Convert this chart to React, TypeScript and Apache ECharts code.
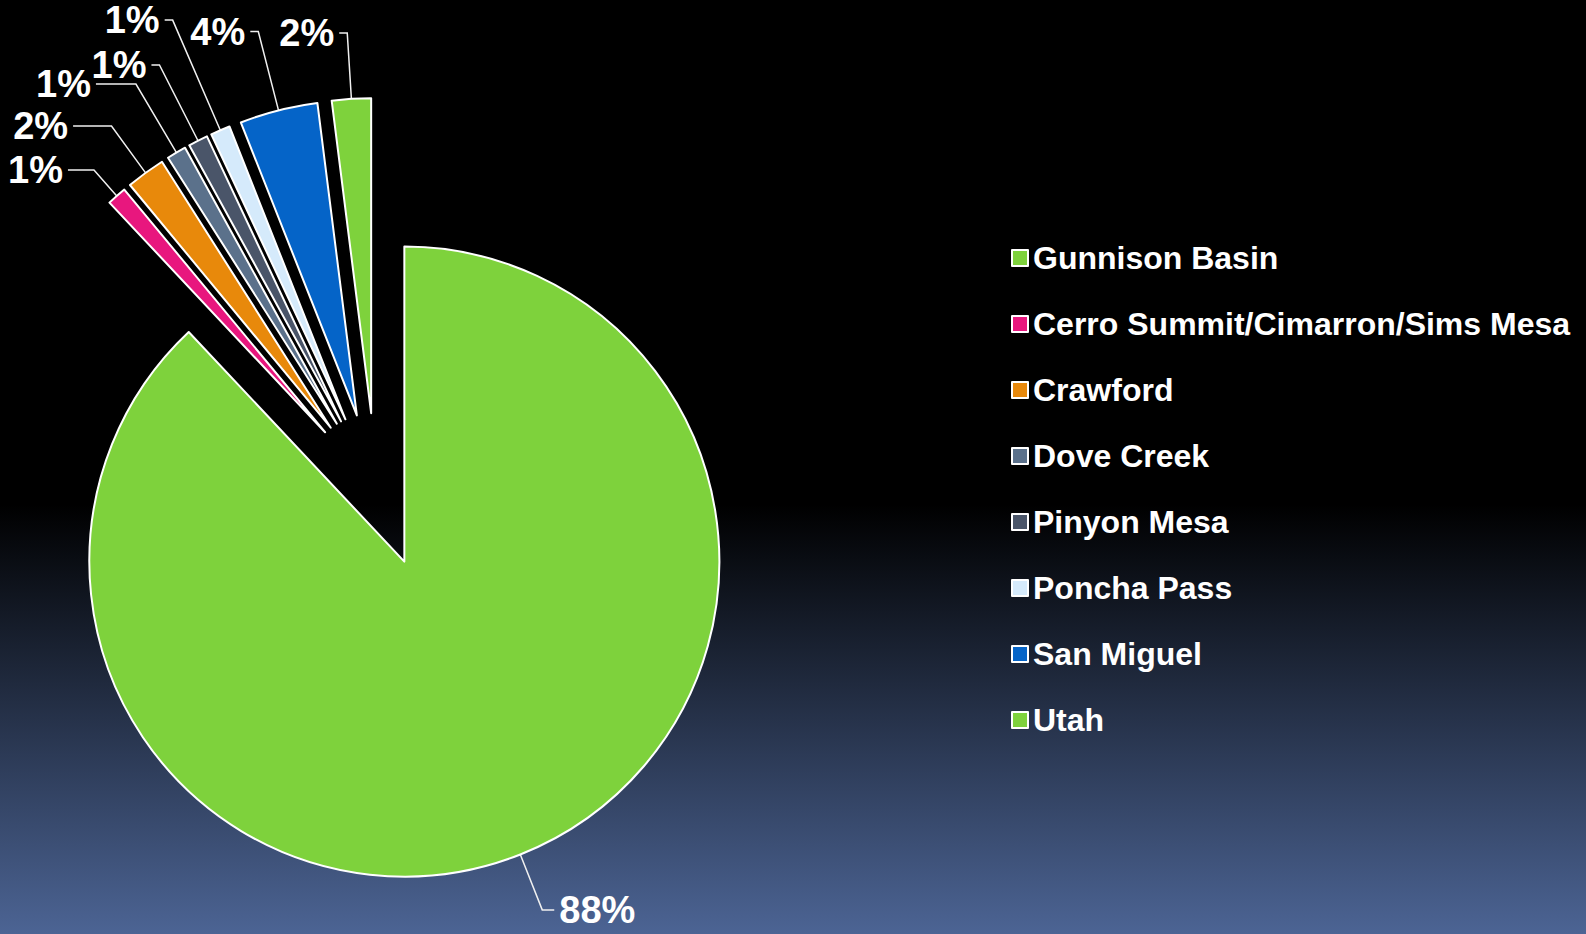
import React, { useEffect, useRef } from "react";
import * as echarts from "echarts";

const categories = [
  "Gunnison Basin",
  "Cerro Summit/Cimarron/Sims Mesa",
  "Crawford",
  "Dove Creek",
  "Pinyon Mesa",
  "Poncha Pass",
  "San Miguel",
  "Utah",
];
const shares = [88, 1, 2, 1, 1, 1, 4, 2];
const colors = [
  "#7ed23c",
  "#e8177e",
  "#e8890b",
  "#5b718b",
  "#4a5569",
  "#d5eafb",
  "#0564c8",
  "#7ed23c",
];
// leader line lengths [first segment, horizontal segment] per slice (style only)
const leaderLengths: [number, number][] = [
  [59.6, 12],
  [34.5, 26],
  [58, 38.4],
  [79.6, 40],
  [85, 8],
  [120, 8],
  [81.3, 8],
  [66, 8],
];

const FONT = "'Liberation Sans', Arial, sans-serif";

export default function App() {
  const ref = useRef<HTMLDivElement>(null);
  useEffect(() => {
    document.body.style.margin = "0";
    const chart = echarts.init(ref.current!, null, { renderer: "svg" });
    chart.setOption({
      animation: false,
      legend: {
        orient: "vertical",
        left: 1006,
        top: 237,
        itemWidth: 16,
        itemHeight: 16,
        itemGap: 34,
        icon: "rect",
        selectedMode: false,
        itemStyle: { borderColor: "#ffffff", borderWidth: 2 },
        textStyle: {
          color: "#ffffff",
          fontSize: 32,
          fontWeight: "bold",
          fontFamily: FONT,
        },
      },
      series: [
        {
          type: "pie",
          center: [376, 490],
          radius: 315,
          startAngle: 90,
          clockwise: true,
          selectedMode: "multiple",
          selectedOffset: 77,
          avoidLabelOverlap: false,
          itemStyle: { borderColor: "#ffffff", borderWidth: 2 },
          select: { itemStyle: { borderColor: "#ffffff", borderWidth: 2 } },
          emphasis: { disabled: true },
          label: {
            show: true,
            formatter: (p: any) => Math.round(p.percent) + "%",
            color: "#ffffff",
            fontSize: 38,
            fontWeight: "bold",
            fontFamily: FONT,
          },
          labelLayout: { hideOverlap: false },
          labelLine: {
            show: true,
            lineStyle: { color: "#f0f0f0", width: 1.5 },
          },
          data: categories.map((name, i) => ({
            name,
            value: shares[i],
            selected: true,
            itemStyle: { color: colors[i] },
            labelLine: { length: leaderLengths[i][0], length2: leaderLengths[i][1] },
          })),
        },
      ],
    });
    return () => chart.dispose();
  }, []);
  return (
    <div
      ref={ref}
      style={{
        position: "fixed",
        left: 0,
        top: 0,
        width: 1586,
        height: 934,
        background:
          "linear-gradient(to bottom, #000000 0%, #000000 54%, #4c6494 100%)",
      }}
    />
  );
}
